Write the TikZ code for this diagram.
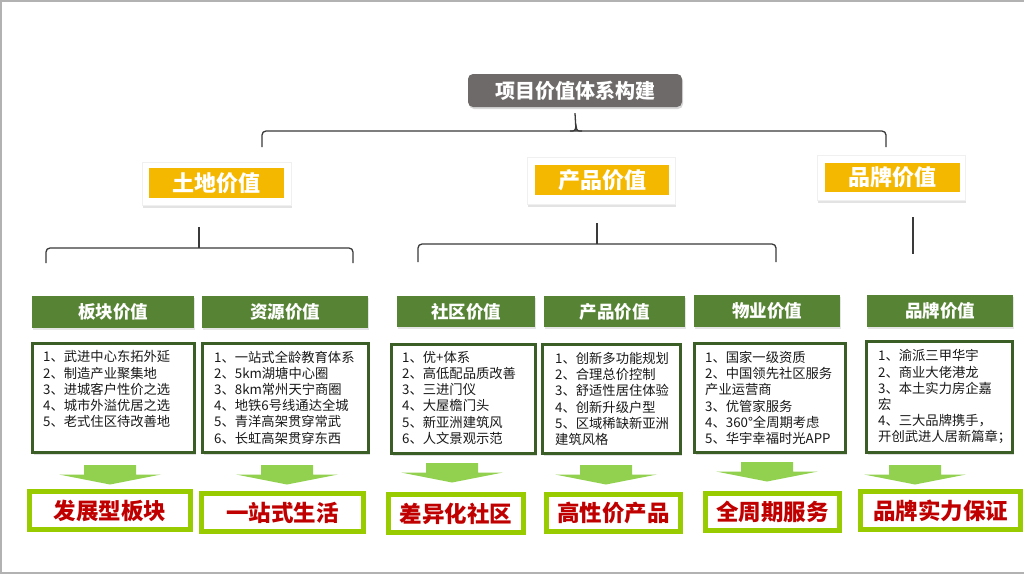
\documentclass[tikz,border=0pt]{standalone}
\usepackage{fontspec}
\setmainfont{Noto Sans CJK SC}
\usetikzlibrary{shadows,calc}
\definecolor{titlegray}{HTML}{6E6A69}
\definecolor{goldy}{HTML}{F5B800}
\definecolor{olive}{HTML}{568334}
\definecolor{darkolive}{HTML}{3B5E26}
\definecolor{arrgreen}{HTML}{92D050}
\definecolor{limeb}{HTML}{99CC00}
\definecolor{resred}{HTML}{C00000}
\definecolor{linegray}{HTML}{3A3A3A}
\newcommand\bx[6]{\node[#1, minimum width={(#4)-(#2)}, minimum height={(#5)-(#3)}] (#6) at ({((#2)+(#4))/2},{((#3)+(#5))/2})}
\tikzset{
  titlebox/.style={fill=titlegray, rounded corners=5pt, text=white, font=\bfseries\fontsize{20}{24}\selectfont, inner sep=0pt, drop shadow={opacity=0.3, shadow xshift=1pt, shadow yshift=-2pt}},
  framebox/.style={fill=white, draw=black!6, inner sep=0pt, drop shadow={opacity=0.22, shadow xshift=1pt, shadow yshift=-3pt}},
  goldbox/.style={fill=goldy, text=white, font=\bfseries\fontsize{22}{26}\selectfont, inner sep=0pt},
  hdrbox/.style={fill=olive, text=white, font=\bfseries\fontsize{17.5}{21}\selectfont, inner sep=0pt, drop shadow={opacity=0.2, shadow xshift=1pt, shadow yshift=-1.5pt}},
  bodybox/.style={draw=darkolive, line width=3pt, fill=white, inner sep=0pt, drop shadow={opacity=0.25, shadow xshift=1pt, shadow yshift=-2pt}},
  bodytxt/.style={anchor=north west, inner sep=0pt, align=left, font=\fontsize{13.3}{16.2}\selectfont, text=black!90},
  resbox/.style={draw=limeb, line width=5pt, fill=white, text=resred, font=\bfseries\fontsize{22.5}{26}\selectfont, inner sep=0pt},
  brk/.style={draw=linegray, line width=1.3pt, rounded corners=4pt},
  brkline/.style={draw=linegray, line width=1.3pt},
  downarrow/.pic={\fill[arrgreen] (-26,0) -- (26,0) -- (26,9.5) -- (51,9.5) -- (0,19.5) -- (-51,9.5) -- (-26,9.5) -- cycle;}
}
\begin{document}
\begin{tikzpicture}[x=1pt,y=-1pt]
\useasboundingbox (0,0) rectangle (1024,576);
\fill[white] (0,0) rectangle (1024,576);
\draw[black!30, line width=1.5pt] (0,0.75) -- (1024,0.75);
\draw[black!30, line width=1.5pt] (0.75,0) -- (0.75,573);
\draw[black!30, line width=1.5pt] (0,573) -- (1024,573);

% top
\bx{titlebox}{468}{74}{682}{107}{top}{项目价值体系构建};

% level 2
\bx{framebox}{142}{162}{291}{205}{f1}{};
\bx{goldbox}{149}{168}{284}{198}{g1}{土地价值};
\bx{framebox}{527}{157}{675}{204}{f2}{};
\bx{goldbox}{535}{165}{669}{195}{g2}{产品价值};
\bx{framebox}{817}{155}{965}{200}{f3}{};
\bx{goldbox}{825}{163}{960}{192}{g3}{品牌价值};

% top brace
\coordinate (m0) at (576,131);
\coordinate (a0) at (262,147);
\coordinate (c0) at (886,147);
\draw[brkline] ($(top.south)+(0,6)$) -- (m0);
\draw[brk] (a0) |- (m0) -| (c0);
\draw[brkline] ($(m0)+(-6,0)$) .. controls ($(m0)+(-1,0)$) .. ($(m0)+(0,-5)$) .. controls ($(m0)+(1,0)$) .. ($(m0)+(6,0)$);

% level 2 braces
\coordinate (s1) at (199,227);
\coordinate (m1) at (199,248);
\coordinate (a1) at (46,263);
\coordinate (c1) at (353,263);
\draw[brkline] (s1) -- (m1);
\draw[brk] (a1) |- (m1) -| (c1);
\coordinate (s2) at (597,223);
\coordinate (m2) at (597,244);
\coordinate (a2) at (418,262);
\coordinate (c2) at (776,262);
\draw[brkline] (s2) -- (m2);
\draw[brk] (a2) |- (m2) -| (c2);
\coordinate (s3) at (913,217);
\coordinate (e3) at (913,254);
\draw[brkline] (s3) -- (e3);

% headers
\bx{hdrbox}{32}{296}{194}{328}{h1}{板块价值};
\bx{hdrbox}{202}{296}{368}{328}{h2}{资源价值};
\bx{hdrbox}{397}{296}{535}{327}{h3}{社区价值};
\bx{hdrbox}{544}{296}{685}{327}{h4}{产品价值};
\bx{hdrbox}{694}{295}{840}{327}{h5}{物业价值};
\bx{hdrbox}{867}{295}{1013}{327}{h6}{品牌价值};

% body boxes
\bx{bodybox}{32.5}{343.5}{194.5}{452.5}{b1}{};
\bx{bodybox}{202.5}{343.5}{368.5}{452.5}{b2}{};
\bx{bodybox}{391.5}{344.5}{535.5}{453.5}{b3}{};
\bx{bodybox}{542.5}{344.5}{680.5}{453.5}{b4}{};
\bx{bodybox}{694.5}{343.5}{845.5}{452.5}{b5}{};
\bx{bodybox}{866.5}{341.5}{1012.5}{452.5}{b6}{};

\node[bodytxt] (t1) at (43,350.5) {1、武进中心东拓外延\\2、制造产业聚集地\\3、进城客户性价之选\\4、城市外溢优居之选\\5、老式住区待改善地};
\node[bodytxt] (t2) at (214,350.5) {1、一站式全龄教育体系\\2、5km湖塘中心圈\\3、8km常州天宁商圈\\4、地铁6号线通达全城\\5、青洋高架贯穿常武\\6、长虹高架贯穿东西};
\node[bodytxt] (t3) at (402,351) {1、优+体系\\2、高低配品质改善\\3、三进门仪\\4、大屋檐门头\\5、新亚洲建筑风\\6、人文景观示范};
\node[bodytxt] (t4) at (555,352) {1、创新多功能规划\\2、合理总价控制\\3、舒适性居住体验\\4、创新升级户型\\5、区域稀缺新亚洲\\建筑风格};
\node[bodytxt] (t5) at (705,351) {1、国家一级资质\\2、中国领先社区服务\\产业运营商\\3、优管家服务\\4、360°全周期考虑\\5、华宇幸福时光APP};
\node[bodytxt] (t6) at (878,349.5) {1、渝派三甲华宇\\2、商业大佬港龙\\3、本土实力房企嘉\\宏\\4、三大品牌携手，\\开创武进人居新篇章；};

% arrows
\pic at (110,465) {downarrow};
\pic at (287,465) {downarrow};
\pic at (452,463) {downarrow};
\pic at (606,465) {downarrow};
\pic at (767,462) {downarrow};
\pic at (915,465) {downarrow};

% results
\bx{resbox}{29.5}{491.5}{190.5}{529.5}{r1}{发展型板块};
\bx{resbox}{201.5}{493.5}{363.5}{531.5}{r2}{一站式生活};
\bx{resbox}{388.5}{494.5}{523.5}{532.5}{r3}{差异化社区};
\bx{resbox}{546.5}{494.5}{680.5}{531.5}{r4}{高性价产品};
\bx{resbox}{705.5}{493.5}{839.5}{530.5}{r5}{全周期服务};
\bx{resbox}{860.5}{491.5}{1020.5}{529.5}{r6}{品牌实力保证};
\end{tikzpicture}
\end{document}
